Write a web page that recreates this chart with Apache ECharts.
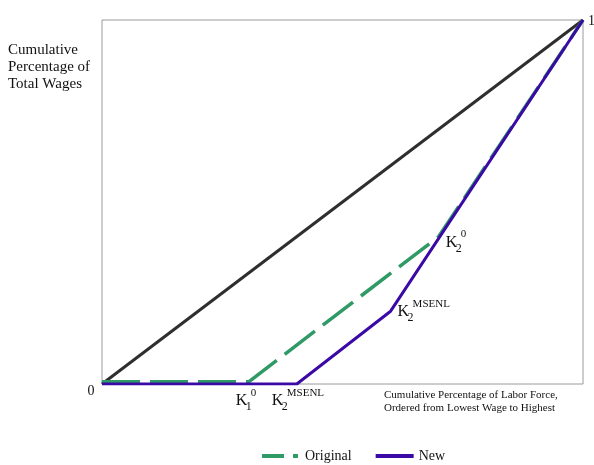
<!DOCTYPE html>
<html>
<head>
<meta charset="utf-8">
<script src="https://cdn.jsdelivr.net/npm/echarts@6/dist/echarts.min.js"></script>
<style>html,body{margin:0;padding:0;background:#fff}#c{width:594px;height:465px}</style>
</head>
<body>
<div id="c"></div>
<script>
// Data (fractions of labor force / wages)
var equalityLine = [[0, 0], [1, 1]];
var originalCurve = [[0, 0.006], [0.305, 0.006], [0.7, 0.405], [1, 1]];
var newCurve = [[0, 0], [0.405, 0], [0.6, 0.2], [1, 1]];
var seriesNames = ['Original', 'New'];
// annotation anchors
var kLabels = [
  {pt: [0.305, 0], sub: '1', sup: '0'},
  {pt: [0.405, 0], sub: '2', sup: 'MSENL'},
  {pt: [0.7, 0.4], sub: '2', sup: '0'},
  {pt: [0.6, 0.2], sub: '2', sup: 'MSENL'}
];
var kOffsets = [[-13, 17], [-25, 17], [7, 4], [7, 1]];

var serif = '"Liberation Serif", "DejaVu Serif", serif';
var chart = echarts.init(document.getElementById('c'));
chart.setOption({
  animation: false,
  grid: {left: 102, right: 11, top: 20, bottom: 81, show: true, borderColor: '#9a9a9a', borderWidth: 1},
  xAxis: {type: 'value', min: 0, max: 1, axisLine: {show: false}, axisTick: {show: false}, axisLabel: {show: false}, splitLine: {show: false}},
  yAxis: {type: 'value', min: 0, max: 1, axisLine: {show: false}, axisTick: {show: false}, axisLabel: {show: false}, splitLine: {show: false}},
  legend: {
    top: 444, left: 255, itemWidth: 38, itemHeight: 14, itemGap: 22,
    textStyle: {fontFamily: serif, fontSize: 14, color: '#111'},
    data: [
      {name: seriesNames[0], itemStyle: {opacity: 0}, lineStyle: {type: [22, 9, 5, 9], width: 4}},
      {name: seriesNames[1], itemStyle: {opacity: 0}, lineStyle: {width: 4}}
    ]
  },
  series: [
    {type: 'line', name: 'equality', data: equalityLine, symbol: 'none', lineStyle: {color: '#2e2e2e', width: 3}, z: 1},
    {type: 'line', name: seriesNames[0], data: originalCurve, symbol: 'none', color: '#2f9a66',
     lineStyle: {color: '#2f9a66', width: 3.5, type: [38, 10]}, z: 2},
    {type: 'line', name: seriesNames[1], data: newCurve, symbol: 'none', color: '#3b0aa6',
     lineStyle: {color: '#3b0aa6', width: 3}, z: 3}
  ]
});

var g = [];
function txt(x, y, s, size, align, vAlign) {
  g.push({type: 'text', x: x, y: y, style: {text: s, font: size + 'px ' + serif, fill: '#111', align: align || 'left', verticalAlign: vAlign || 'middle'}});
}
kLabels.forEach(function (k, i) {
  var p = chart.convertToPixel({gridIndex: 0}, k.pt);
  var x = p[0] + kOffsets[i][0], y = p[1] + kOffsets[i][1];
  txt(x, y, 'K', 16, 'left', 'middle');
  txt(x + 10, y + 6, k.sub, 12, 'left', 'middle');
  txt(x + 15, y - 8, k.sup, 11, 'left', 'middle');
});
var o = chart.convertToPixel({gridIndex: 0}, [0, 0]);
txt(o[0] - 11, o[1] + 7, '0', 14, 'center', 'middle');
var t = chart.convertToPixel({gridIndex: 0}, [1, 1]);
txt(t[0] + 5, t[1] + 1, '1', 14, 'left', 'middle');
g.push({type: 'text', x: 8, y: 42, style: {text: 'Cumulative\nPercentage of\nTotal Wages', font: '15px ' + serif, lineHeight: 17, fill: '#111'}});
g.push({type: 'text', x: 384, y: 389, style: {text: 'Cumulative Percentage of Labor Force,\nOrdered from Lowest Wage to Highest', font: '11px ' + serif, lineHeight: 13, fill: '#111'}});
chart.setOption({graphic: g});
</script>
</body>
</html>
